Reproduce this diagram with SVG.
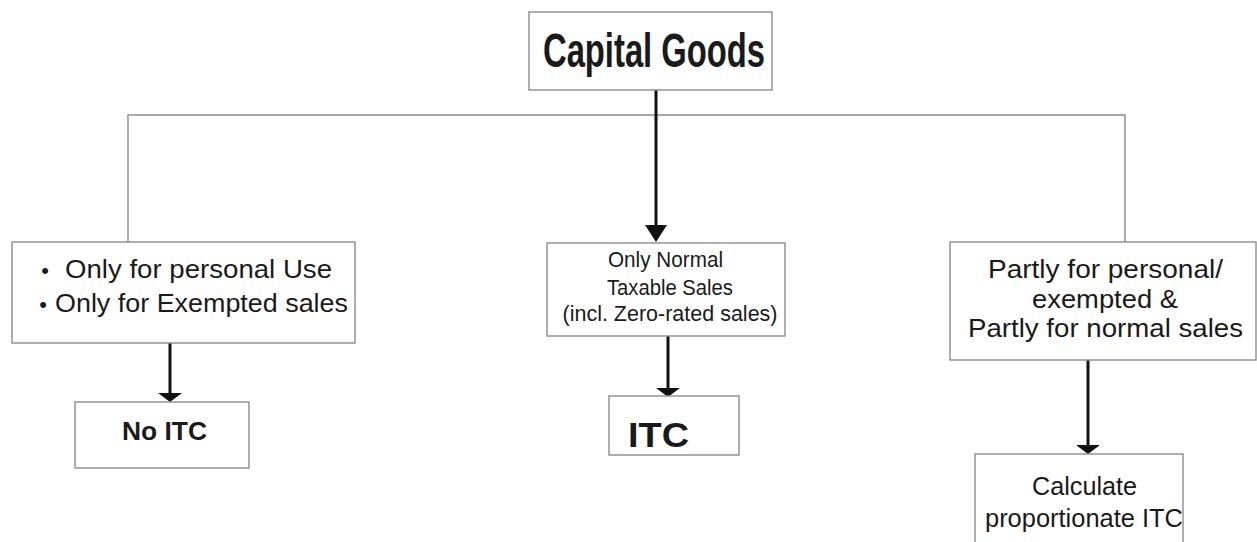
<svg xmlns="http://www.w3.org/2000/svg" width="1257" height="542" viewBox="0 0 1257 542">
<style>
.box{fill:#fff;stroke:#8c8c8c;stroke-width:1.4}
.link{fill:none;stroke:#8c8c8c;stroke-width:1.4}
.arrow{fill:none;stroke:#111;stroke-width:3}
.t{font-family:"Liberation Sans",Arial,sans-serif;fill:#1a1a1a}
.b{font-weight:bold}
</style>
<defs>
<marker id="head" markerUnits="userSpaceOnUse" viewBox="0 -13 10 26" refX="0" refY="0" markerWidth="10" markerHeight="26" orient="auto" overflow="visible">
<path d="M0,-12 L9,0 L0,12 Z" fill="#111"/>
</marker>
<marker id="headBig" markerUnits="userSpaceOnUse" viewBox="0 -12 18 24" refX="0" refY="0" markerWidth="18" markerHeight="24" orient="auto" overflow="visible">
<path d="M0,-11 L17,0 L0,11 Z" fill="#111"/>
</marker>
</defs>
<rect width="1257" height="542" fill="#fff"/>
<g id="connectors">
<path class="link" d="M128,242 V115 H1125 V242"/>
<line class="arrow" x1="656" y1="90" x2="656" y2="225" marker-end="url(#headBig)"/>
<line class="arrow" x1="170" y1="343" x2="170" y2="393" marker-end="url(#head)"/>
<line class="arrow" x1="668" y1="336" x2="668" y2="388" marker-end="url(#head)"/>
<line class="arrow" x1="1088" y1="360" x2="1088" y2="445" marker-end="url(#head)"/>
</g>
<g id="capital-goods">
<rect class="box" x="529" y="12" width="243" height="78"/>
<text class="t b" x="654" y="67" font-size="48" text-anchor="middle" textLength="222" lengthAdjust="spacingAndGlyphs">Capital Goods</text>
</g>
<g id="personal-exempted">
<rect class="box" x="12" y="242" width="343" height="101"/>
<text class="t" x="45" y="278" font-size="22" text-anchor="middle">•</text>
<text class="t" x="65" y="278" font-size="25" textLength="267" lengthAdjust="spacingAndGlyphs">Only for personal Use</text>
<text class="t" x="43" y="312" font-size="22" text-anchor="middle">•</text>
<text class="t" x="55" y="312" font-size="25" textLength="293" lengthAdjust="spacingAndGlyphs">Only for Exempted sales</text>
</g>
<g id="no-itc">
<rect class="box" x="75" y="402" width="174" height="66"/>
<text class="t b" x="164.5" y="440" font-size="25" text-anchor="middle" textLength="85" lengthAdjust="spacingAndGlyphs">No ITC</text>
</g>
<g id="normal-taxable">
<rect class="box" x="547" y="243" width="238" height="93"/>
<text class="t" x="665.5" y="267" font-size="22" text-anchor="middle" textLength="115" lengthAdjust="spacingAndGlyphs">Only Normal</text>
<text class="t" x="670" y="295" font-size="22" text-anchor="middle" textLength="126" lengthAdjust="spacingAndGlyphs">Taxable Sales</text>
<text class="t" x="670" y="321" font-size="22" text-anchor="middle" textLength="215" lengthAdjust="spacingAndGlyphs">(incl. Zero-rated sales)</text>
</g>
<g id="itc">
<rect class="box" x="609" y="396" width="130" height="59"/>
<text class="t b" x="658.5" y="447" font-size="35" text-anchor="middle" textLength="61" lengthAdjust="spacingAndGlyphs">ITC</text>
</g>
<g id="partly">
<rect class="box" x="950" y="242" width="306" height="118"/>
<text class="t" x="1105.5" y="278" font-size="25" text-anchor="middle" textLength="235" lengthAdjust="spacingAndGlyphs">Partly for personal/</text>
<text class="t" x="1105" y="308" font-size="25" text-anchor="middle" textLength="146" lengthAdjust="spacingAndGlyphs">exempted &amp;</text>
<text class="t" x="1105.5" y="337" font-size="25" text-anchor="middle" textLength="275" lengthAdjust="spacingAndGlyphs">Partly for normal sales</text>
</g>
<g id="proportionate">
<rect class="box" x="975" y="454" width="208" height="100"/>
<text class="t" x="1084.5" y="495" font-size="25" text-anchor="middle" textLength="105" lengthAdjust="spacingAndGlyphs">Calculate</text>
<text class="t" x="1084" y="527" font-size="25" text-anchor="middle" textLength="198" lengthAdjust="spacingAndGlyphs">proportionate ITC</text>
</g>
</svg>
